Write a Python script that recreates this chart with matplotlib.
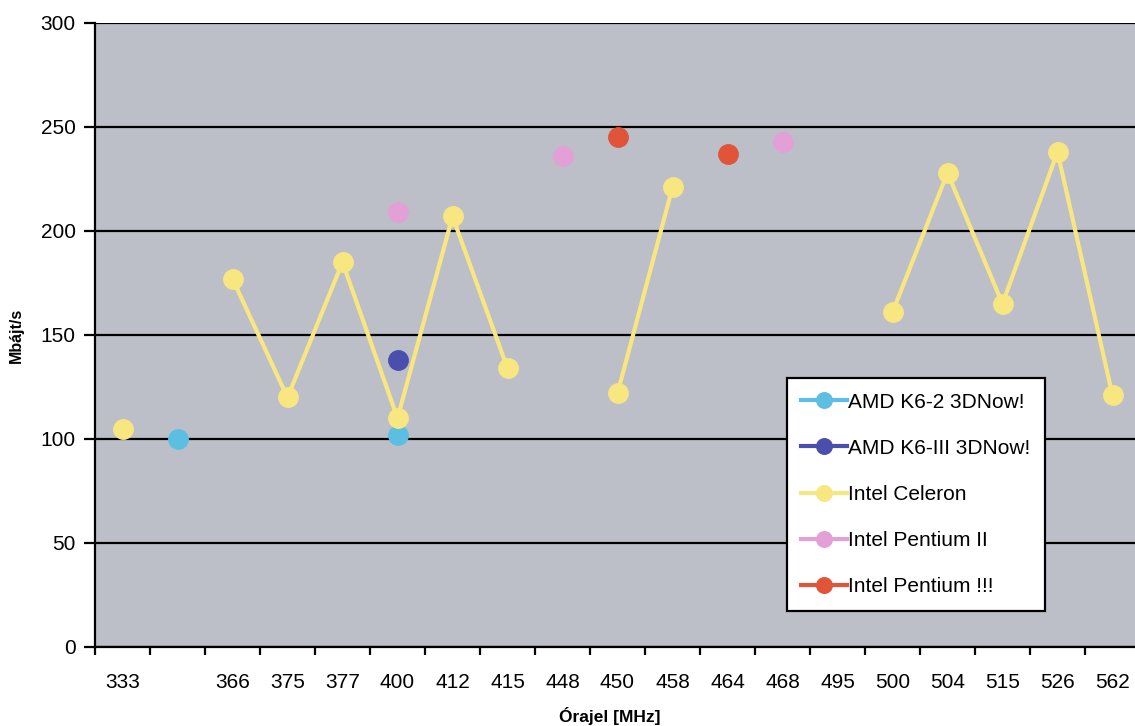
import numpy as np
import matplotlib.pyplot as plt

nan = np.nan

# x categories (clock speed, MHz); second label is blank in the original
clock_labels = ['333', '', '366', '375', '377', '400', '412', '415', '448', '450',
                '458', '464', '468', '495', '500', '504', '515', '526', '562']

k6_2 = [nan, 100, nan, nan, nan, 102, nan, nan, nan, nan,
        nan, nan, nan, nan, nan, nan, nan, nan, nan]
k6_3 = [nan, nan, nan, nan, nan, 138, nan, nan, nan, nan,
        nan, nan, nan, nan, nan, nan, nan, nan, nan]
celeron = [105, nan, 177, 120, 185, 110, 207, 134, nan, 122,
           221, nan, nan, nan, 161, 228, 165, 238, 121]
pentium2 = [nan, nan, nan, nan, nan, 209, nan, nan, 236, nan,
            nan, nan, 243, nan, nan, nan, nan, nan, nan]
pentium3 = [nan, nan, nan, nan, nan, nan, nan, nan, nan, 245,
            nan, 237, nan, nan, nan, nan, nan, nan, nan]

series = [
    ('AMD K6-2 3DNow!', k6_2, '#5cbfe2'),
    ('AMD K6-III 3DNow!', k6_3, '#4a4fae'),
    ('Intel Celeron', celeron, '#f8e680'),
    ('Intel Pentium II', pentium2, '#e3a0d6'),
    ('Intel Pentium !!!', pentium3, '#e0553a'),
]

plt.rcParams['font.family'] = ['Liberation Sans', 'DejaVu Sans']

W, H = 1135, 726
fig = plt.figure(figsize=(W / 100, H / 100), dpi=100)
ax = fig.add_axes([95 / W, 79 / H, 1045 / W, 624 / H])
ax.set_facecolor('#bdbfc8')

x = np.arange(len(clock_labels))
for name, vals, col in series:
    ax.plot(x, vals, color=col, lw=3, marker='o', ms=14, label=name, zorder=3)

ax.set_ylim(0, 300)
ax.set_xlim(-0.5, len(clock_labels) - 0.5)
ax.set_yticks(range(0, 301, 50))
ax.yaxis.grid(True, color='black', lw=1.6)
ax.set_axisbelow(True)

ax.set_xticks(x)
ax.set_xticklabels(clock_labels)
ax.set_xticks(np.arange(-0.5, len(clock_labels), 1), minor=True)
ax.tick_params(axis='x', which='major', length=0, pad=19, labelsize=15)
ax.tick_params(axis='x', which='minor', length=6, width=1.6, direction='out')
ax.tick_params(axis='y', length=8, width=1.6, labelsize=15, pad=6)

for s in ['top', 'right']:
    ax.spines[s].set_visible(False)
for s in ['left', 'bottom']:
    ax.spines[s].set_linewidth(1.6)

# axis titles placed in figure pixels
fig.text(610 / W, 1 - 716 / H, 'Órajel [MHz]', fontsize=12.5, fontweight='bold',
         ha='center', va='center')
fig.text(16 / W, 1 - 335 / H, 'Mbájt/s', fontsize=11.5, fontweight='bold',
         ha='center', va='center', rotation=90)

leg = ax.legend(loc='upper left', bbox_to_anchor=(0.662, 0.431), fontsize=15,
                frameon=True, fancybox=False, edgecolor='black', facecolor='white',
                framealpha=1, handlelength=2.2, handletextpad=0.05,
                labelspacing=1.3, borderpad=0.7, borderaxespad=0,
                markerscale=0.8)
leg.get_frame().set_linewidth(1.6)

fig.savefig('out.png', dpi=100)
